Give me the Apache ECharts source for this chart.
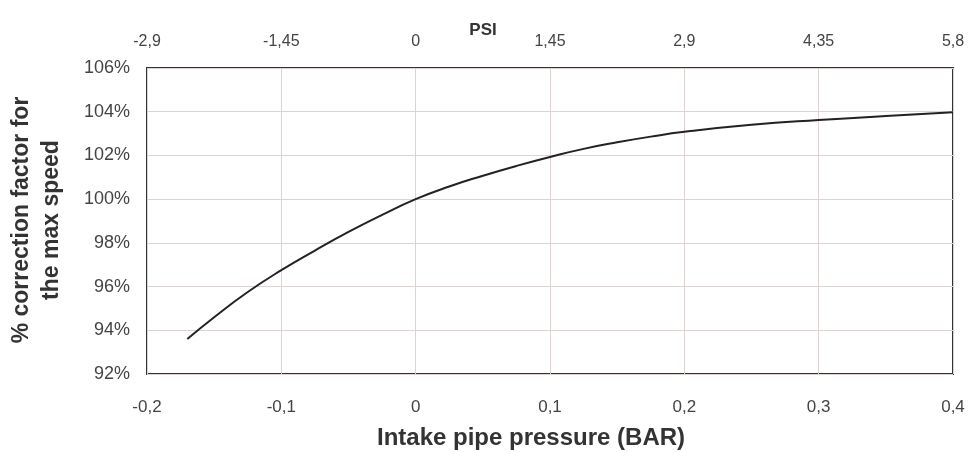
<!DOCTYPE html>
<html>
<head>
<meta charset="utf-8">
<script src="https://cdn.jsdelivr.net/npm/echarts@6/dist/echarts.min.js"></script>
<style>html,body{margin:0;padding:0;background:#fff}#c{width:968px;height:452px}</style>
</head>
<body>
<div id="c"></div>
<script>
// Data
var pressureBar = [-0.17,-0.15,-0.125,-0.1,-0.075,-0.05,-0.025,0,0.025,0.05,0.075,0.1,0.125,0.15,0.175,0.2,0.25,0.3,0.35,0.4];
var correctionPct = [93.6,94.6,95.75,96.75,97.65,98.5,99.28,100.0,100.58,101.07,101.52,101.93,102.3,102.6,102.86,103.08,103.4,103.62,103.8,103.97];
var barTicks = {min:-0.2, max:0.4, interval:0.1};
var psiTicks = {min:-2.9, max:5.8, interval:1.45};
var pctTicks = {min:92, max:106, interval:2};
var xTitle = 'Intake pipe pressure (BAR)';
var topTitle = 'PSI';
var yTitle = '% correction factor for\nthe max speed';

var fmtComma = function(v){ return String(Math.round(v*100)/100).replace('.', ','); };
var font = '"Liberation Sans", Arial, sans-serif';
var lblColor = '#444';

var chart = echarts.init(document.getElementById('c'), null, {renderer:'canvas'});
chart.setOption({
  backgroundColor:'#fff',
  animation:false,
  grid:{left:147, right:15, top:68, bottom:78, show:true, borderColor:'#333', borderWidth:2, backgroundColor:'transparent'},
  xAxis:[{
    type:'value', position:'bottom', min:barTicks.min, max:barTicks.max, interval:barTicks.interval,
    axisLine:{show:false}, axisTick:{show:false},
    axisLabel:{formatter:fmtComma, color:lblColor, fontSize:17, fontFamily:font, margin:25},
    splitLine:{show:true, lineStyle:{color:'#dcd4d0', width:1}}
  },{
    type:'value', position:'top', min:psiTicks.min, max:psiTicks.max, interval:psiTicks.interval,
    axisLine:{show:false}, axisTick:{show:false},
    axisLabel:{formatter:fmtComma, color:lblColor, fontSize:16, fontFamily:font, margin:18},
    splitLine:{show:false}
  }],
  yAxis:{
    type:'value', min:pctTicks.min, max:pctTicks.max, interval:pctTicks.interval,
    axisLine:{show:false}, axisTick:{show:false},
    axisLabel:{formatter:'{value}%', color:lblColor, fontSize:18, fontFamily:font, margin:17},
    splitLine:{show:true, lineStyle:{color:'#dcd4d0', width:1}}
  },
  series:[{
    type:'line', xAxisIndex:0, smooth:0.5, symbol:'none',
    lineStyle:{color:'#222', width:2},
    data:pressureBar.map(function(x,i){return [x, correctionPct[i]];})
  }],
  graphic:[
    {type:'text', x:531, y:438, style:{text:xTitle, font:'bold 24px '+font, fill:'#333', align:'center', verticalAlign:'middle'}},
    {type:'text', x:483, y:30, style:{text:topTitle, font:'bold 17px '+font, fill:'#333', align:'center', verticalAlign:'middle'}},
    {type:'text', x:37, y:220, rotation:Math.PI/2, style:{text:yTitle, font:'bold 23px '+font, lineHeight:30, fill:'#333', align:'center', verticalAlign:'middle'}}
  ]
});
</script>
</body>
</html>
